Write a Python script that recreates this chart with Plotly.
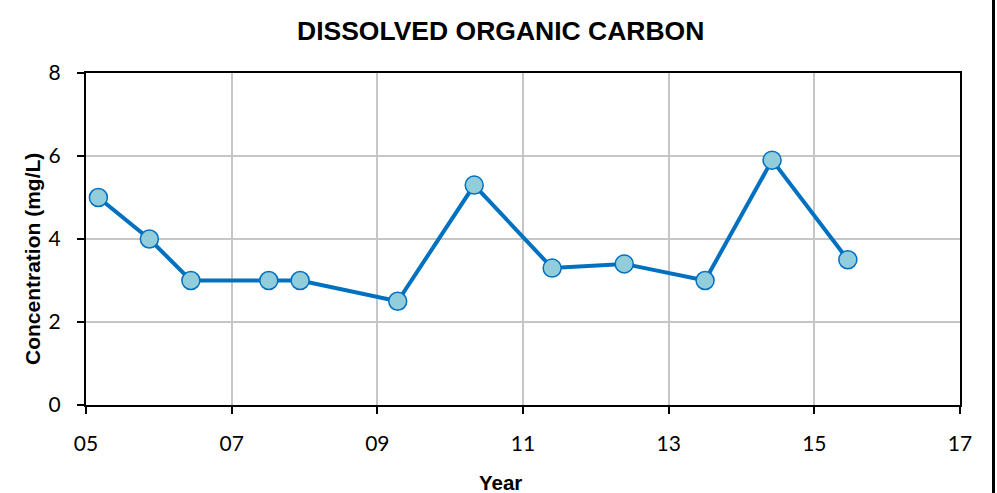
import plotly.graph_objects as go

# DOC sampling dates (decimal year, 2-digit) and concentrations (mg/L)
years = [5.17, 5.87, 6.44, 7.51, 7.94, 9.28, 10.33, 11.40, 12.39, 13.50, 14.42, 15.46]
doc = [5.0, 4.0, 3.0, 3.0, 3.0, 2.5, 5.3, 3.3, 3.4, 3.0, 5.9, 3.5]

x_ticks = [5, 7, 9, 11, 13, 15, 17]
x_tick_labels = ['05', '07', '09', '11', '13', '15', '17']
y_ticks = [0, 2, 4, 6, 8]

fig = go.Figure()
fig.add_trace(go.Scatter(
    x=years, y=doc,
    mode='lines+markers',
    line=dict(color='#0070C0', width=4),
    marker=dict(size=18, color='#92CDDC', line=dict(color='#0070C0', width=1.5)),
    showlegend=False,
    cliponaxis=False,
))

axis_style = dict(
    showline=True, linecolor='black', linewidth=2, mirror=True,
    ticks='outside', ticklen=7, tickwidth=2, tickcolor='black',
    showgrid=True, gridcolor='#C6C6C6', gridwidth=2,
    zeroline=False,
    tickfont=dict(family='Lato', size=21, color='black'),
    ticklabelstandoff=12,
)

fig.update_xaxes(range=[5, 17], tickvals=x_ticks, ticktext=x_tick_labels, **axis_style)
fig.update_yaxes(range=[0, 8], tickvals=y_ticks, **axis_style)

fig.update_layout(
    width=997, height=493,
    margin=dict(l=86, r=37, t=73, b=88),
    paper_bgcolor='white', plot_bgcolor='white',
    font=dict(family='Liberation Sans', color='black'),
    annotations=[
        dict(text='<b>DISSOLVED ORGANIC CARBON</b>', xref='paper', yref='paper',
             x=(500 - 86) / 874, y=(405 - 31) / 332, showarrow=False,
             font=dict(size=26.5), xanchor='center', yanchor='middle'),
        dict(text='<b>Year</b>', xref='paper', yref='paper',
             x=(500 - 86) / 874, y=(405 - 482) / 332, showarrow=False,
             font=dict(size=20.5), xanchor='center', yanchor='middle'),
        dict(text='<b>Concentration (mg/L)</b>', xref='paper', yref='paper',
             x=(32 - 86) / 874, y=(405 - 259) / 332, showarrow=False, textangle=-90,
             font=dict(size=21), xanchor='center', yanchor='middle'),
    ],
    shapes=[
        # outer chart border on the right edge
        dict(type='line', xref='paper', yref='paper', layer='above',
             x0=(993.5 - 86) / 874, x1=(993.5 - 86) / 874,
             y0=(405 - 493) / 332, y1=(405 - 0) / 332,
             line=dict(color='black', width=3)),
    ],
)

# drop the default page margin so the figure fills the window exactly
fig.write_html('out.html', config={'displayModeBar': False},
               post_script="document.body.style.margin='0';document.body.style.overflow='hidden';")
